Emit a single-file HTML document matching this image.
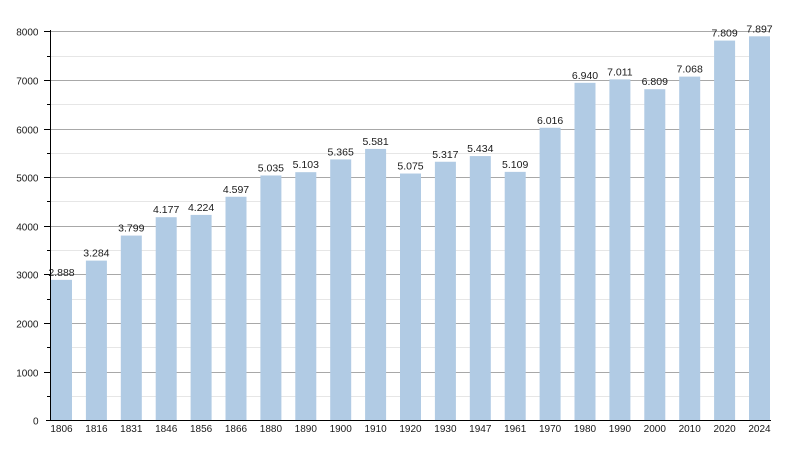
<!DOCTYPE html>
<html><head><meta charset="utf-8"><style>
html,body{margin:0;padding:0;background:#fff;}
svg{display:block;}
text{font-family:"Liberation Sans",Arial,sans-serif;font-size:10px;fill:#1a1a1a;}
text.v{font-size:10.5px;}
</style></head><body>
<svg width="800" height="450" viewBox="0 0 800 450" xmlns="http://www.w3.org/2000/svg">
<g id="grid"></g>
<g id="bars"></g>
<g id="axes"></g>
</svg>
<script>
(function(){
var NS="http://www.w3.org/2000/svg";
var vals=[2888,3284,3799,4177,4224,4597,5035,5103,5365,5581,5075,5317,5434,5109,6016,6940,7011,6809,7068,7809,7897];
var years=["1806","1816","1831","1846","1856","1866","1880","1890","1900","1910","1920","1930","1947","1961","1970","1980","1990","2000","2010","2020","2024"];
function y(v){return 420.3-v*0.048625;}
function el(tag,attrs,parent,txt){var e=document.createElementNS(NS,tag);for(var k in attrs)e.setAttribute(k,attrs[k]);if(txt!==undefined)e.textContent=txt;parent.appendChild(e);return e;}
var grid=document.getElementById("grid"),bars=document.getElementById("bars"),axes=document.getElementById("axes");
for(var v=500;v<=8000;v+=500){
  var yy=Math.round(y(v))+0.5;
  var major=(v%1000===0);
  el("line",{x1:50,x2:770,y1:yy,y2:yy,stroke:major?"#a8a8a8":"#e6e6e6","stroke-width":1},grid);
  el("line",{x1:major?44:47,x2:50,y1:yy,y2:yy,stroke:"#000","stroke-width":1},axes);
  if(major) el("text",{x:38.5,y:yy+3.8,"text-anchor":"end"},axes,String(v));
}
el("text",{x:38.5,y:424.3,"text-anchor":"end"},axes,"0");
for(var i=0;i<vals.length;i++){
  var x=51+34.9*i, w=21, top=y(vals[i]);
  el("rect",{x:x,y:top,width:w,height:420.3-top,fill:"#b1cbe4"},bars);
  var cx=x+w/2;
  el("text",{x:cx,y:top-4,"text-anchor":"middle","class":"v"},axes,(vals[i]/1000).toFixed(3));
  el("text",{x:cx,y:432,"text-anchor":"middle"},axes,years[i]);
}
el("line",{x1:50.5,x2:50.5,y1:30,y2:421,stroke:"#000","stroke-width":1},axes);
el("line",{x1:46,x2:771,y1:420.5,y2:420.5,stroke:"#000","stroke-width":1},axes);
})();
</script>
</body></html>
